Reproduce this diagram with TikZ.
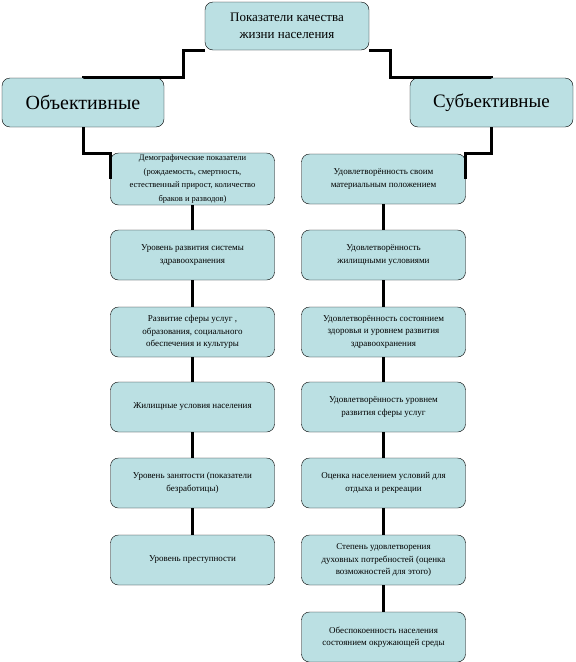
\documentclass[tikz,border=0pt]{standalone}
\usepackage{fontspec}
\setmainfont{Liberation Serif}
\definecolor{boxfill}{RGB}{187,224,227}
\tikzset{
  box/.style={draw, fill=boxfill, rounded corners=8pt, minimum width=164pt,
    minimum height=50pt, inner sep=1pt, align=center,
    font=\fontsize{9}{12.5}\selectfont},
  conn/.style={line width=3pt},
}
\begin{document}
\begin{tikzpicture}[x=1pt,y=-1pt]
  \useasboundingbox (0,0) rectangle (576,662);

  \node[box, minimum height=48pt, font=\fontsize{13}{17}\selectfont] (Top) at (287,26)
    {Показатели качества\\жизни населения};
  \node[box, minimum width=162pt, minimum height=49pt, font=\fontsize{20}{24}\selectfont] (Obj) at (83,102.5) {Объективные};
  \node[box, minimum width=163pt, minimum height=49pt, font=\fontsize{19}{24}\selectfont] (Subj) at (491.5,102.5) {Субъективные};

  % objective indicators
  \node[box, minimum height=52pt, font=\fontsize{8.5}{13.5}\selectfont] (O1) at (192.5,179)
    {Демографические показатели\\(рождаемость, смертность,\\естественный прирост, количество\\браков и разводов)};
  \node[box] (O2) at (192.5,255) {Уровень развития системы\\здравоохранения};
  \node[box] (O3) at (192.5,332) {Развитие сферы услуг ,\\образования, социального\\обеспечения и культуры};
  \node[box] (O4) at (192.5,407) {Жилищные условия населения};
  \node[box] (O5) at (192.5,483) {Уровень занятости (показатели\\безработицы)};
  \node[box] (O6) at (192.5,560) {Уровень преступности};

  % subjective indicators
  \node[box] (S1) at (383.5,179) {Удовлетворённость своим\\материальным положением};
  \node[box] (S2) at (383.5,255) {Удовлетворённость\\жилищными условиями};
  \node[box] (S3) at (383.5,332) {Удовлетворённость состоянием\\здоровья и уровнем развития\\здравоохранения};
  \node[box] (S4) at (383.5,407) {Удовлетворённость уровнем\\развития сферы услуг};
  \node[box] (S5) at (383.5,483) {Оценка населением условий для\\отдыха и рекреации};
  \node[box] (S6) at (383.5,560) {Степень удовлетворения\\духовных потребностей (оценка\\возможностей для этого)};
  \node[box] (S7) at (383.5,637) {Обеспокоенность населения\\состоянием окружающей среды};

  \draw[conn] (Top.south west) -| ++(-21,27) -| (Obj.north);
  \draw[conn] (Top.south east) -| ++(21,27) -| (Subj.north);
  \draw[conn] (Obj.south) -- ++(0,26) -| (O1.west);
  \draw[conn] (Subj.south) -- ++(0,26) -| (S1.east);

  \draw[conn] (O1) edge (O2) (O2) edge (O3) (O3) edge (O4) (O4) edge (O5) (O5) edge (O6);
  \draw[conn] (S1) edge (S2) (S2) edge (S3) (S3) edge (S4) (S4) edge (S5) (S5) edge (S6) (S6) edge (S7);
\end{tikzpicture}
\end{document}
